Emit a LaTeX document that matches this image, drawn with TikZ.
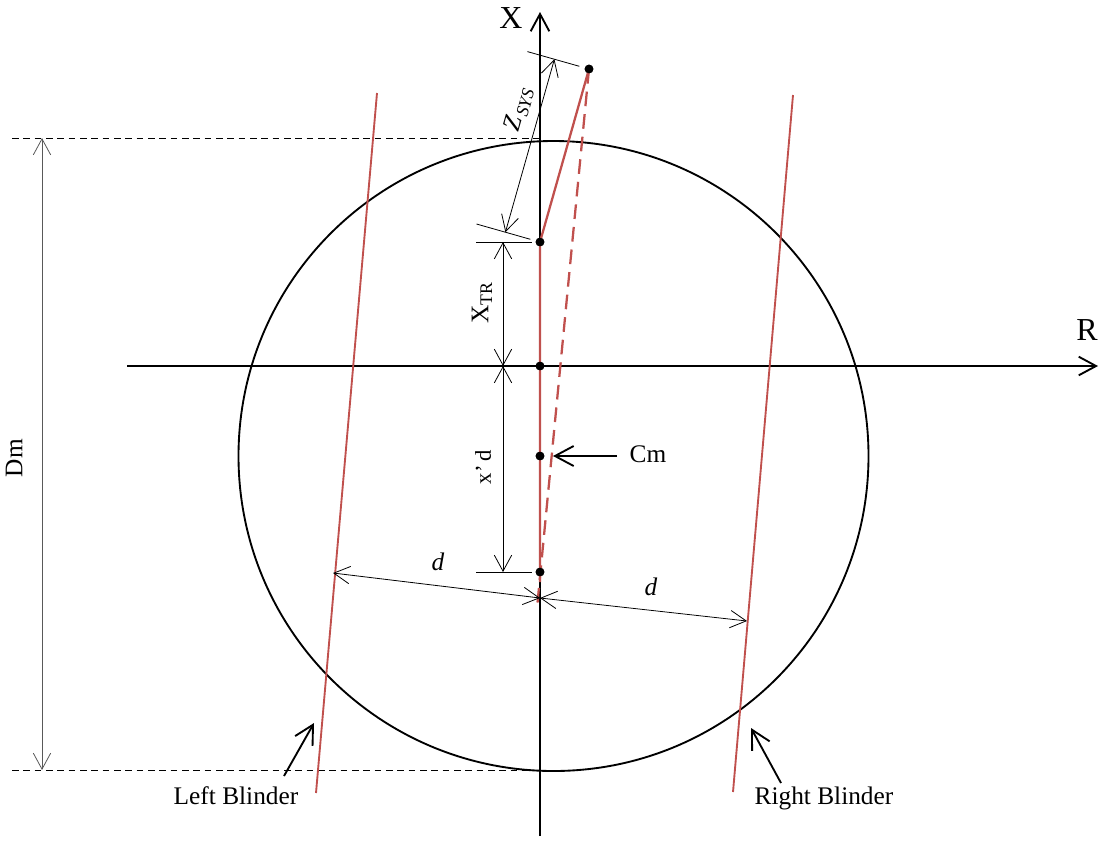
\documentclass[tikz,border=0pt]{standalone}
\usepackage{fontspec}
\setmainfont{Liberation Serif}
\usetikzlibrary{arrows.meta,calc}
\definecolor{blinder}{RGB}{192,80,77}
\begin{document}
\begin{tikzpicture}[x=0.75pt,y=-0.75pt,
  axis/.style={line width=1.4pt,-{Straight Barb[length=13pt,width=14pt]}},
  pointer/.style={line width=1.4pt,-{Straight Barb[length=14pt,width=15pt]}},
  dim/.style={line width=0.6pt,{Straight Barb[length=12pt,width=13pt]}-{Straight Barb[length=12pt,width=13pt]}},
  ext/.style={line width=0.6pt},
  dimgray/.style={line width=0.6pt,draw=gray!70!black,{Straight Barb[length=12pt,width=13pt]}-{Straight Barb[length=12pt,width=13pt]}},
  guide/.style={line width=0.6pt,dashed,dash pattern=on 5pt off 3.5pt},
  redline/.style={line width=1.7pt,draw=blinder},
  reddash/.style={line width=1.7pt,draw=blinder,dash pattern=on 11pt off 6pt},
  dot/.style={circle,fill=black,inner sep=0pt,minimum size=6.5pt},
  lbl/.style={font=\fontsize{19}{22}\selectfont,inner sep=0pt},
  biglbl/.style={font=\fontsize{24}{27}\selectfont,inner sep=0pt}]
\useasboundingbox (0,0) rectangle (1102,840);

% axes
\coordinate (xb) at (540,836);
\coordinate (xt) at (540,12);
\coordinate (rl) at (127,366);
\coordinate (rr) at (1098,366);
\draw[axis] (xb) -- (xt);
\draw[axis] (rl) -- (rr);
\node[biglbl] (Xlab) at (511,18) {X};
\node[biglbl] (Rlab) at (1087,330) {R};

% circle
\node[circle,draw,line width=1.4pt,minimum size=472.5pt,inner sep=0pt] (circ) at (553.5,456) {};

% Dm dimension
\coordinate (dmt0) at (12,138);
\coordinate (dmt1) at (540,138);
\coordinate (dmb0) at (12,770);
\coordinate (dmb1) at (540,770);
\draw[guide] (dmt0) -- (dmt1);
\draw[guide] (dmb0) -- (dmb1);
\coordinate (dmA) at (42,138);
\coordinate (dmB) at (42,770);
\draw[dimgray] (dmA) -- (dmB);
\node[lbl,rotate=90] (Dm) at (14,458) {Dm};

% blinders
\coordinate (lb1) at (377,93);
\coordinate (lb2) at (316,793);
\coordinate (rb1) at (793,95);
\coordinate (rb2) at (733,792);
\draw[redline,line width=1.4pt] (lb1) -- (lb2);
\draw[redline,line width=1.4pt] (rb1) -- (rb2);

% points
\node[dot] (P1) at (589,69) {};
\node[dot] (P2) at (540,242) {};
\node[dot] (O) at (540,366) {};
\node[dot] (C) at (540,456) {};
\node[dot] (P3) at (540,572) {};

% red lines
\coordinate (redEnd) at (540,582);
\coordinate (dashEnd) at (537,608);
\draw[redline] (P1.center) -- (P2.center) -- (redEnd);
\draw[reddash] (P1.center) -- (dashEnd);
\node[dot] at (P2) {};
\node[dot] at (O) {};
\node[dot] at (C) {};
\node[dot] at (P3) {};
\node[dot] at (P1) {};

% Zsys dimension
\coordinate (z1a) at (579.4,66.3);
\coordinate (z1b) at (527.4,51.6);
\coordinate (z2a) at (530.4,239.3);
\coordinate (z2b) at (476.5,224.0);
\draw[ext] (z1a) -- (z1b);
\draw[ext] (z2a) -- (z2b);
\coordinate (zA) at (554.4,59.2);
\coordinate (zB) at (505.4,232.2);
\draw[dim] (zA) -- (zB);
\node[lbl,rotate=74] (zsys) at (519,109) {\textit{Z}\kern1.5pt\textsubscript{\textit{SYS}}};

% X_TR and x'd dimensions
\coordinate (e1a) at (476,242);
\coordinate (e1b) at (532,242);
\coordinate (e2a) at (476,572);
\coordinate (e2b) at (532,572);
\draw[ext] (e1a) -- (e1b);
\draw[ext] (e2a) -- (e2b);
\coordinate (dX1) at (503,242);
\coordinate (dX2) at (503,366);
\coordinate (dX3) at (503,572);
\draw[dim] (dX1) -- (dX2);
\draw[dim] (dX2) -- (dX3);
\node[lbl,rotate=90] (xtr) at (482,303) {X\textsubscript{TR}};
\node[lbl,rotate=90,font=\fontsize{17}{20}\selectfont] (xd) at (483,467) {x’\,d};

% d dimensions
\coordinate (dC) at (540,598);
\coordinate (dL) at (333,573);
\coordinate (dR) at (747,621);
\draw[dim] (dC) -- (dL);
\draw[dim] (dC) -- (dR);
\node[lbl] (dl) at (438,562) {\textit{d}};
\node[lbl] (dr) at (651,587) {\textit{d}};

% Cm pointer
\node[lbl] (Cm) at (648,454) {Cm};
\coordinate (cmS) at (617,456);
\coordinate (cmT) at (553,456);
\draw[pointer] (cmS) -- (cmT);

% blinder labels
\node[lbl] (lbl) at (236,796) {Left Blinder};
\node[lbl] (rbl) at (824,798) {Right Blinder};
\coordinate (laS) at (284,776);
\coordinate (laT) at (314,723);
\coordinate (raS) at (781,783);
\coordinate (raT) at (751,728);
\draw[pointer] (laS) -- (laT);
\draw[pointer] (raS) -- (raT);
\end{tikzpicture}
\end{document}
